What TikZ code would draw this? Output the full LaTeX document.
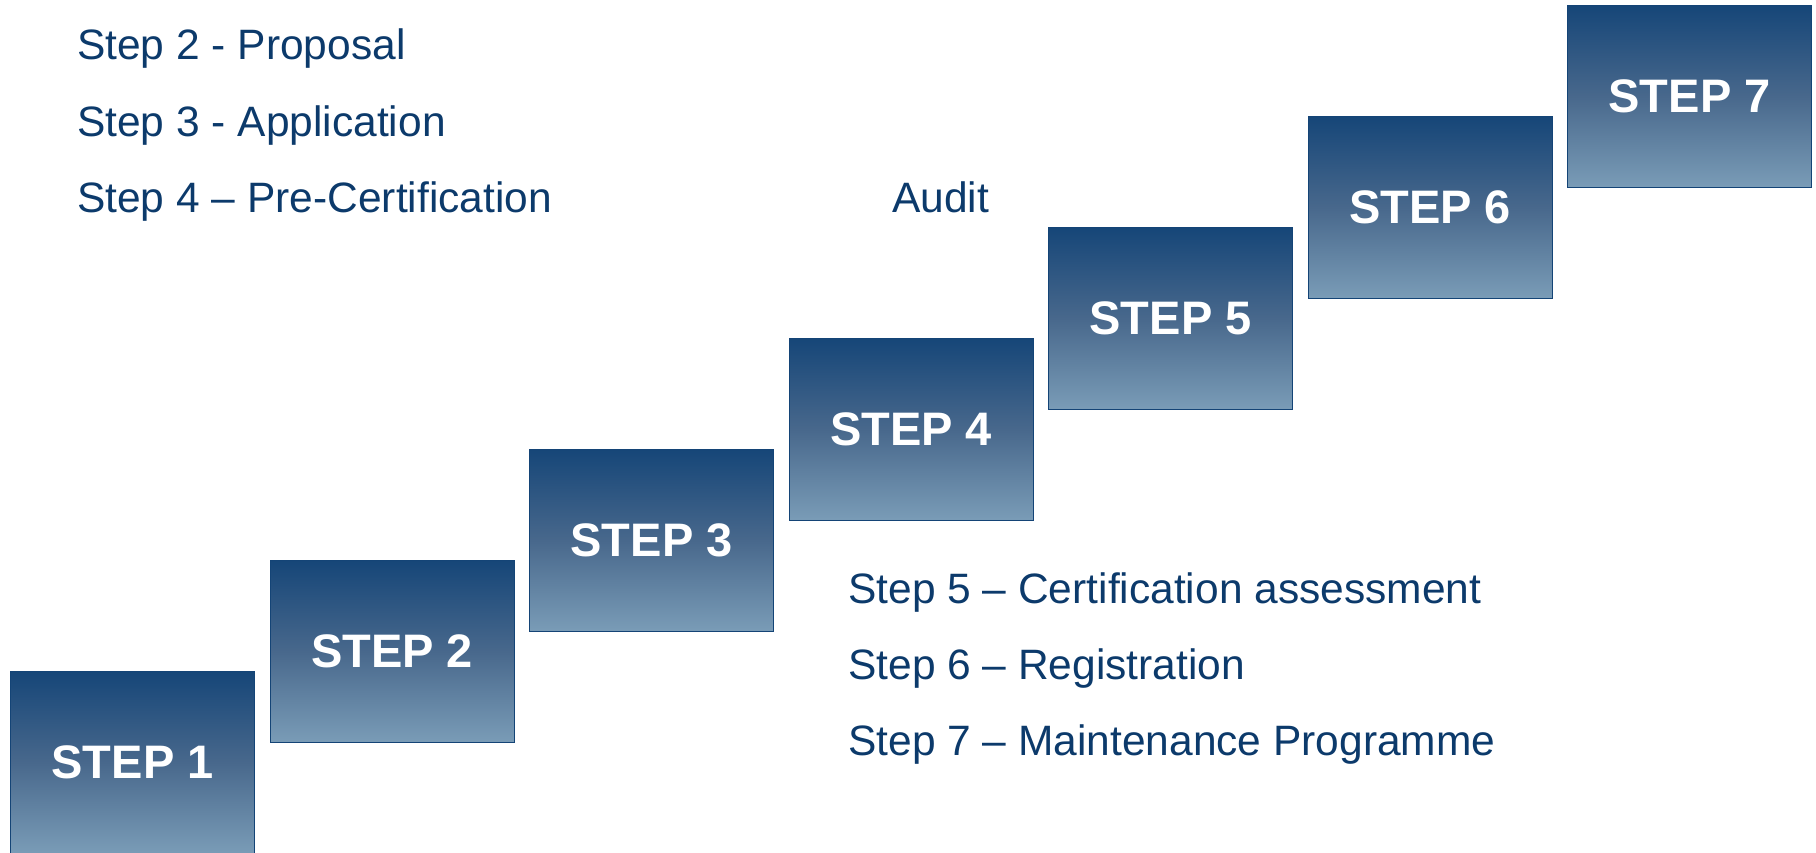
\documentclass[tikz,border=0pt]{standalone}
\usepackage{fontspec}
\setmainfont{Liberation Sans}
\definecolor{txtblue}{RGB}{12,58,107}
\definecolor{boxtop}{RGB}{22,70,120}
\definecolor{boxmid}{RGB}{72,104,140}
\definecolor{boxbot}{RGB}{122,156,183}
\definecolor{boxline}{RGB}{20,68,118}
\newcommand{\stxt}[1]{\raisebox{-2.5pt}{#1}}
\tikzset{
  stepbox/.style={draw=boxline, line width=1.2pt, top color=boxtop, bottom color=boxbot, middle color=boxmid,
    minimum width=244pt, minimum height=182pt, inner sep=0pt, anchor=north west,
    text=white, font=\fontsize{47}{50}\selectfont\bfseries},
  lbl/.style={anchor=base west, inner sep=0pt, text=txtblue, font=\fontsize{42.5}{46}\selectfont}
}
\begin{document}
\begin{tikzpicture}[x=1pt,y=-1pt]
\useasboundingbox (0,0) rectangle (1816,853);
\begin{scope}
\clip (0,0) rectangle (1816,853);
\node[stepbox] (s1) at (10,671) {\stxt{STEP 1}};
\node[stepbox] (s2) at (269.5,560) {\stxt{STEP 2}};
\node[stepbox] (s3) at (529,449) {\stxt{STEP 3}};
\node[stepbox] (s4) at (788.5,338) {\stxt{STEP 4}};
\node[stepbox] (s5) at (1048,227) {\stxt{STEP 5}};
\node[stepbox] (s6) at (1307.5,116) {\stxt{STEP 6}};
\node[stepbox] (s7) at (1567,5) {\stxt{STEP 7}};
\end{scope}
\node[lbl] (t2) at (77,60) {Step 2 - Proposal};
\node[lbl] (t3) at (77,137) {Step 3 - Application};
\node[lbl] (t4) at (77,213) {Step 4 – Pre-Certification};
\node[lbl] (ta) at (892,213) {Audit};
\node[lbl] (t5) at (848,603) {Step 5 – Certification assessment};
\node[lbl] (t6) at (848,679) {Step 6 – Registration};
\node[lbl] (t7) at (848,755) {Step 7 – Maintenance Programme};
\end{tikzpicture}
\end{document}
